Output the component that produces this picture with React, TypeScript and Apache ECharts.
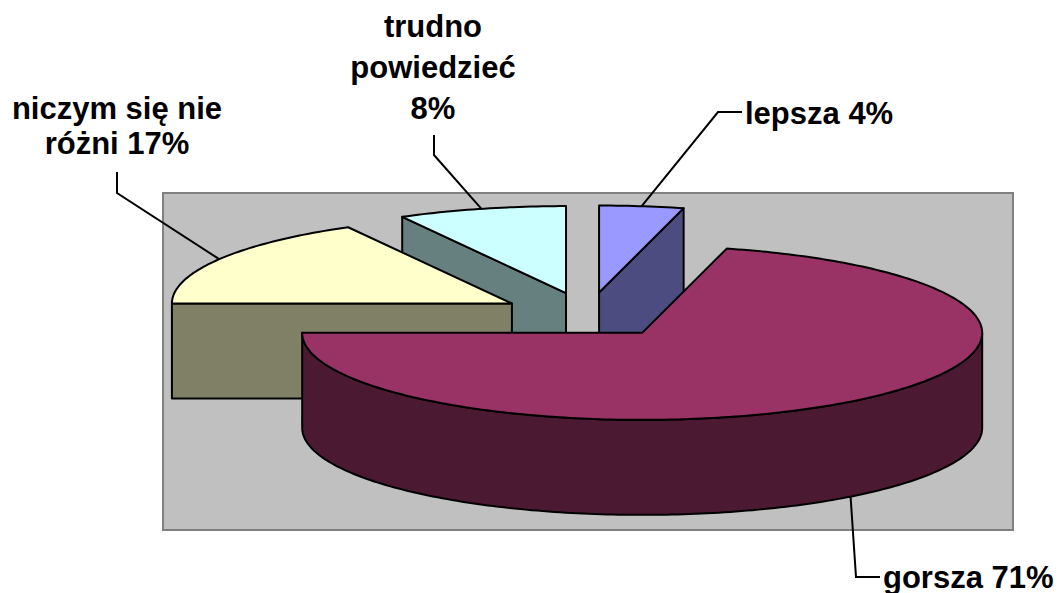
import React, { useEffect, useRef } from "react";
import * as echarts from "echarts";

// ---- data ----
const categories = ["lepsza", "gorsza", "niczym się nie\nróżni", "trudno\npowiedzieć"];
const values = [4, 71, 17, 8];
const valueSeparators = [" ", " ", " ", "\n"];
const topColors = ["#9999FF", "#993366", "#FFFFCC", "#CCFFFF"];
const sideColors = ["#4C4C80", "#4C1933", "#808066", "#668080"];

// ---- layout / style ----
const W = 1061;
const H = 593;
const CX = 588;
const CY = 315;
const RX = 340;
const RY = 87;
const DEPTH = 95;
const EXPLODE = 0.26;
const PLOT = { x: 163, y: 193, w: 850, h: 337 };
const FONT = "'Liberation Sans', Arial, Helvetica, sans-serif";
const FONT_SIZE = 31;

const labelLayout = [
  { elbow: [[718, 112], [742, 112]], x: 745, y: 113, align: "left", va: "middle", lh: 34 },
  { elbow: [[856, 577], [880, 577]], x: 883, y: 577, align: "left", va: "middle", lh: 34 },
  { elbow: [[117, 193], [117, 172]], x: 117, y: 161, align: "center", va: "bottom", lh: 35 },
  { elbow: [[434, 155], [434, 135]], x: 433, y: 129, align: "center", va: "bottom", lh: 41 },
];

const DEG = Math.PI / 180;

function computeSlices() {
  const total = values.reduce((a, b) => a + b, 0);
  let acc = 0;
  return values.map((v) => {
    const a0 = (acc / total) * 360;
    acc += v;
    const a1 = (acc / total) * 360;
    const mid = (a0 + a1) / 2;
    const ox = CX + RX * EXPLODE * Math.sin(mid * DEG);
    const oy = CY - RY * EXPLODE * Math.cos(mid * DEG);
    return { a0, a1, mid, ox, oy };
  });
}

function pt(ox: number, oy: number, deg: number, dz: number) {
  return [ox + RX * Math.sin(deg * DEG), oy - RY * Math.cos(deg * DEG) + dz];
}

function arc(ox: number, oy: number, s: number, e: number, dz: number) {
  const pts: number[][] = [];
  const n = Math.max(2, Math.ceil(Math.abs(e - s) / 1));
  for (let i = 0; i <= n; i++) {
    pts.push(pt(ox, oy, s + ((e - s) * i) / n, dz));
  }
  return pts;
}

export default function App() {
  const ref = useRef<HTMLDivElement>(null);

  useEffect(() => {
    document.body.style.margin = "0";
    if (!ref.current) return;
    const chart = echarts.init(ref.current, undefined, { renderer: "svg" });
    const slices = computeSlices();
    // painter's order: back (cos(mid) large) first
    const order = slices
      .map((s, i) => ({ i, c: Math.cos(s.mid * DEG) }))
      .sort((a, b) => b.c - a.c)
      .map((o) => o.i);
    const rankOf: number[] = [];
    order.forEach((idx, r) => (rankOf[idx] = r));

    const stroke = { stroke: "#000", lineWidth: 2, lineJoin: "round" };

    const renderItem = (params: any, api: any) => {
      const i = params.dataIndex;
      const s = slices[i];
      const base = rankOf[i] * 10;
      const children: any[] = [];
      const apexTop = [s.ox, s.oy];
      const apexBot = [s.ox, s.oy + DEPTH];

      // radial face at start edge
      if (Math.sin(s.a0 * DEG) < -1e-6) {
        const r0 = pt(s.ox, s.oy, s.a0, 0);
        const r1 = pt(s.ox, s.oy, s.a0, DEPTH);
        children.push({
          type: "polygon",
          z2: base + 1,
          shape: { points: [apexTop, r0, r1, apexBot] },
          style: { fill: sideColors[i], ...stroke },
        });
      }
      // radial face at end edge
      if (Math.sin(s.a1 * DEG) > 1e-6) {
        const r0 = pt(s.ox, s.oy, s.a1, 0);
        const r1 = pt(s.ox, s.oy, s.a1, DEPTH);
        children.push({
          type: "polygon",
          z2: base + 1,
          shape: { points: [apexTop, r0, r1, apexBot] },
          style: { fill: sideColors[i], ...stroke },
        });
      }
      // curved outer face (visible between 90 and 270 degrees)
      const cs = Math.max(s.a0, 90);
      const ce = Math.min(s.a1, 270);
      if (ce > cs) {
        const top = arc(s.ox, s.oy, cs, ce, 0);
        const bot = arc(s.ox, s.oy, cs, ce, DEPTH).reverse();
        children.push({
          type: "polygon",
          z2: base + 2,
          shape: { points: top.concat(bot) },
          style: { fill: sideColors[i], ...stroke },
        });
      }
      // top face
      children.push({
        type: "polygon",
        z2: base + 3,
        shape: { points: [apexTop].concat(arc(s.ox, s.oy, s.a0, s.a1, 0)) },
        style: { fill: topColors[i], ...stroke },
      });

      // label with leader line
      const L = labelLayout[i];
      const onFront = Math.cos(s.mid * DEG) < 0;
      const anchor = pt(s.ox, s.oy, s.mid, onFront ? DEPTH : 0);
      children.push({
        type: "polyline",
        z2: 100,
        shape: { points: [anchor].concat(L.elbow) },
        style: { stroke: "#000", lineWidth: 2, fill: null },
      });
      const text = categories[i] + valueSeparators[i] + api.value(0) + "%";
      children.push({
        type: "text",
        z2: 101,
        style: {
          text,
          x: L.x,
          y: L.y,
          fill: "#000",
          fontSize: FONT_SIZE,
          fontWeight: "bold",
          fontFamily: FONT,
          align: L.align,
          verticalAlign: L.va,
          lineHeight: L.lh,
        },
      });
      return { type: "group", children };
    };

    chart.setOption({
      animation: false,
      backgroundColor: "#fff",
      graphic: [
        {
          type: "rect",
          z: 0,
          shape: { x: PLOT.x, y: PLOT.y, width: PLOT.w, height: PLOT.h },
          style: { fill: "#C0C0C0", stroke: "#808080", lineWidth: 2 },
        },
      ],
      series: [
        {
          type: "custom",
          coordinateSystem: "none",
          z: 10,
          data: values.map((v, i) => ({ name: categories[i], value: [v] })),
          renderItem,
        },
      ],
    });
    return () => chart.dispose();
  }, []);

  return <div ref={ref} style={{ width: W, height: H }} />;
}
